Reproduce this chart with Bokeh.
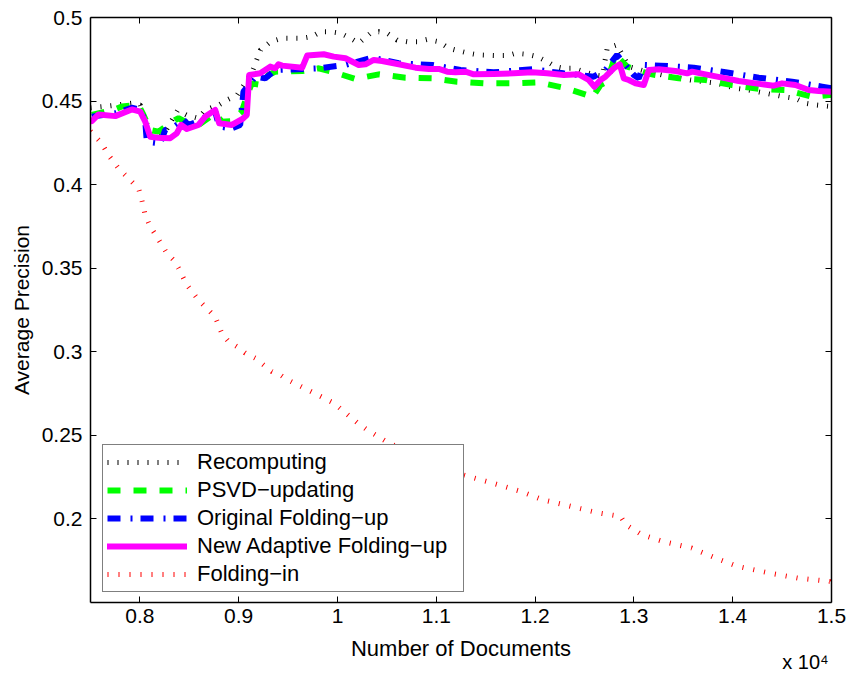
from bokeh.plotting import figure
from bokeh.models import Range1d, FixedTicker, LinearAxis, Legend, LegendItem
from bokeh.embed import file_html
from bokeh.resources import INLINE

# ---------------- data ----------------
x_tick_values = [8000, 9000, 10000, 11000, 12000, 13000, 14000, 15000]
x_tick_labels = ["0.8", "0.9", "1", "1.1", "1.2", "1.3", "1.4", "1.5"]
y_tick_values = [0.2, 0.25, 0.3, 0.35, 0.4, 0.45, 0.5]
y_tick_labels = ["0.2", "0.25", "0.3", "0.35", "0.4", "0.45", "0.5"]
x_exponent_pos = [14737]
x_exponent_label = ["x 10\u2074"]

recomp_x = [7500, 7631, 7918, 8003, 8060, 8110, 8250, 8380, 8470, 8593, 8664, 8799,
            8883, 8985, 9086, 9137, 9221, 9322, 9440, 9643, 9744, 9828, 9929, 10030,
            10131, 10215, 10334, 10418, 10502, 10604, 10705, 10806, 10907, 11025, 11126,
            11228, 11329, 11430, 11616, 11717, 11801, 11920, 12021, 12122, 12206, 12290,
            12391, 12492, 12600, 12680, 12730, 12830, 12948, 13100, 13286, 13573, 13843,
            14028, 14162, 14331, 14517, 14635, 14737, 14838, 15000]
recomp_y = [0.446, 0.4467, 0.4487, 0.4477, 0.438, 0.430, 0.431, 0.4443, 0.4417, 0.4397,
            0.4447, 0.4477, 0.4507, 0.4537, 0.4626, 0.4676, 0.4806, 0.4855, 0.4876, 0.4876,
            0.4886, 0.4915, 0.4915, 0.4906, 0.4876, 0.4846, 0.4906, 0.4915, 0.4906, 0.4865,
            0.4855, 0.4855, 0.4869, 0.4855, 0.4816, 0.48, 0.4786, 0.4776, 0.4772, 0.4772,
            0.4786, 0.478, 0.4766, 0.4736, 0.4706, 0.4696, 0.4696, 0.4676, 0.4656, 0.465,
            0.4816, 0.4836, 0.4706, 0.468, 0.4656, 0.4626, 0.4606, 0.4577, 0.4566, 0.4547,
            0.4526, 0.4516, 0.4487, 0.4477, 0.4467]

psvd_x = [7513, 7733, 7817, 7986, 8036, 8104, 8188, 8357, 8391, 8492, 8593, 8762, 8829,
          8930, 9031, 9099, 9132, 9234, 9301, 9372, 9643, 9810, 9946, 10182, 10418, 10688,
          10958, 11211, 11498, 11768, 12037, 12290, 12527, 12578, 12662, 12730, 12813,
          12932, 13134, 13218, 13454, 13725, 13995, 14281, 14534, 14804, 15000]
psvd_y = [0.4417, 0.4447, 0.4467, 0.4477, 0.4417, 0.4327, 0.4317, 0.4387, 0.4397, 0.4367,
          0.4357, 0.4427, 0.4377, 0.438, 0.4437, 0.4556, 0.4606, 0.4596, 0.4656, 0.4676,
          0.468, 0.4696, 0.4676, 0.4632, 0.466, 0.464, 0.4636, 0.4616, 0.4606, 0.4606,
          0.4612, 0.458, 0.4536, 0.452, 0.4596, 0.4616, 0.4776, 0.4706, 0.4666, 0.4656,
          0.4636, 0.4626, 0.4596, 0.4572, 0.4566, 0.4526, 0.4537]

orig_x = [7513, 7750, 7918, 8003, 8054, 8070, 8205, 8256, 8323, 8441, 8492, 8593, 8762,
          8803, 8930, 9015, 9048, 9167, 9268, 9372, 9810, 10081, 10351, 10618, 10958,
          11245, 11579, 11970, 12287, 12594, 12712, 12830, 12915, 12999, 13049, 13100,
          13269, 13606, 13927, 14264, 14601, 14905, 15000]
orig_y = [0.4407, 0.4427, 0.446, 0.4447, 0.438, 0.4257, 0.4247, 0.4327, 0.4337, 0.4387,
          0.4357, 0.438, 0.4437, 0.4347, 0.4337, 0.4357, 0.4556, 0.4646, 0.4636, 0.4686,
          0.4696, 0.4716, 0.476, 0.4726, 0.4716, 0.4686, 0.4672, 0.469, 0.4666, 0.4646,
          0.4686, 0.4776, 0.4716, 0.4656, 0.4636, 0.4716, 0.4712, 0.47, 0.4672, 0.464,
          0.4616, 0.4586, 0.4576]

adapt_x = [7513, 7581, 7750, 7918, 8003, 8054, 8104, 8188, 8307, 8373, 8418, 8475, 8593,
           8661, 8762, 8803, 8930, 9038, 9082, 9106, 9218, 9319, 9369, 9403, 9440, 9643,
           9693, 9861, 9962, 10081, 10215, 10283, 10367, 10452, 10620, 10789, 10924, 11025,
           11110, 11194, 11295, 11379, 11582, 11784, 11970, 12122, 12290, 12442, 12543,
           12601, 12662, 12712, 12796, 12857, 12898, 12948, 13016, 13100, 13151, 13252,
           13421, 13539, 13590, 13725, 13894, 14061, 14231, 14416, 14500, 14635, 14770,
           14871, 15000]
adapt_y = [0.438, 0.442, 0.441, 0.445, 0.4437, 0.4377, 0.4287, 0.428, 0.4278, 0.4307,
           0.4357, 0.4333, 0.4357, 0.4407, 0.4447, 0.4367, 0.4357, 0.4393, 0.4417, 0.4656,
           0.4666, 0.4706, 0.4696, 0.472, 0.4712, 0.47, 0.4772, 0.478, 0.4766, 0.4756,
           0.4716, 0.472, 0.4746, 0.474, 0.472, 0.47, 0.4692, 0.4692, 0.4676, 0.4672,
           0.4676, 0.466, 0.4662, 0.4666, 0.4672, 0.4666, 0.4656, 0.466, 0.4626, 0.4586,
           0.4626, 0.4646, 0.4696, 0.472, 0.4636, 0.4626, 0.4606, 0.4596, 0.4686, 0.469,
           0.468, 0.4666, 0.4676, 0.466, 0.464, 0.462, 0.4606, 0.4592, 0.4606, 0.4596,
           0.4566, 0.456, 0.4556]

foldin_x = [7500, 7614, 7682, 7783, 7851, 7918, 7986, 8019, 8054, 8104, 8171, 8272, 8340,
            8391, 8475, 8593, 8677, 8762, 8829, 8897, 8981, 9066, 9167, 9251, 9335, 9420,
            9497, 9962, 10207, 10300, 10495, 10850, 11267, 11573, 11859, 12075, 12362,
            12650, 12865, 12919, 13081, 13295, 13583, 13870, 14050, 14373, 14660, 14983,
            15000]
foldin_y = [0.432, 0.4247, 0.4177, 0.4098, 0.4058, 0.4018, 0.3978, 0.3908, 0.3818, 0.3749,
            0.3689, 0.359, 0.355, 0.35, 0.34, 0.331, 0.326, 0.321, 0.3111, 0.3061, 0.3031,
            0.2992, 0.2962, 0.2922, 0.2882, 0.2862, 0.2832, 0.2693, 0.2573, 0.2533, 0.2463,
            0.236, 0.2264, 0.2214, 0.2164, 0.2115, 0.2075, 0.2035, 0.2015, 0.1965, 0.1905,
            0.1865, 0.1826, 0.1756, 0.1716, 0.1676, 0.1646, 0.1626, 0.1615]

series_names = ["Recomputing", "PSVD\u2212updating", "Original Folding\u2212up",
                "New Adaptive Folding\u2212up", "Folding\u2212in"]

# ---------------- figure ----------------
FONT = "Liberation Sans"
p = figure(width=852, height=675, output_backend="svg", toolbar_location=None,
           x_range=Range1d(7500, 15000), y_range=Range1d(0.15, 0.5),
           min_border_left=90, min_border_right=21, min_border_top=17,
           min_border_bottom=73, background_fill_color="white",
           border_fill_color="white", outline_line_color=None)
p.grid.visible = False

xt = FixedTicker(ticks=x_tick_values)
yt = FixedTicker(ticks=y_tick_values)


def style_axis(ax, ticker, labels=None):
    ax.ticker = ticker
    ax.major_tick_in = 6
    ax.major_tick_out = 0
    ax.minor_tick_line_color = None
    ax.axis_line_width = 1.5
    ax.axis_line_color = "black"
    ax.major_tick_line_color = "black"
    ax.major_tick_line_width = 1
    ax.major_label_text_font = FONT
    ax.axis_label_text_font = FONT
    ax.axis_label_text_font_style = "normal"
    ax.axis_label_text_color = "black"
    if labels is not None:
        ax.major_label_overrides = labels
        ax.major_label_text_font_size = "21px"
        ax.major_label_text_color = "black"
    else:
        ax.major_label_overrides = {v: "" for v in ticker.ticks}
        ax.major_label_text_font_size = "6px"
        ax.major_label_text_color = None
        ax.major_label_standoff = 0


xaxis = p.xaxis[0]
yaxis = p.yaxis[0]
style_axis(xaxis, xt, {v: l for v, l in zip(x_tick_values, x_tick_labels)})
style_axis(yaxis, yt, {v: l for v, l in zip(y_tick_values, y_tick_labels)})
xaxis.axis_label = "Number of Documents"
xaxis.axis_label_text_font_size = "22px"
xaxis.major_label_standoff = 6
xaxis.axis_label_standoff = 10
yaxis.axis_label = "Average Precision"
yaxis.axis_label_text_font_size = "21px"
yaxis.major_label_standoff = 8
yaxis.axis_label_standoff = 6

top_axis = LinearAxis()
style_axis(top_axis, xt)
p.add_layout(top_axis, "above")
right_axis = LinearAxis()
style_axis(right_axis, yt)
p.add_layout(right_axis, "right")

# exponent text "x 10^4" below the right end of the x axis
exp_axis = LinearAxis(ticker=FixedTicker(ticks=x_exponent_pos),
                      major_label_overrides={v: l for v, l in zip(x_exponent_pos, x_exponent_label)},
                      axis_line_color=None, major_tick_line_color=None,
                      minor_tick_line_color=None, major_tick_in=0, major_tick_out=0,
                      major_label_standoff=-13, major_label_text_font=FONT,
                      major_label_text_font_size="20px", major_label_text_color="black")
p.add_layout(exp_axis, "below")

r_rec = p.line(recomp_x, recomp_y, line_color="black", line_width=5,
               line_dash="1 9", line_cap="butt")
r_psvd = p.line(psvd_x, psvd_y, line_color="#00ff00", line_width=6,
                line_dash="13 13", line_cap="butt")
r_orig = p.line(orig_x, orig_y, line_color="#0000ff", line_width=6,
                line_dash="13 10 2 8", line_cap="butt")
r_adapt = p.line(adapt_x, adapt_y, line_color="#ff00ff", line_width=6,
                 line_join="round", line_cap="round")
r_fold = p.line(foldin_x, foldin_y, line_color="#ff0000", line_width=5,
                line_dash="1 10", line_cap="butt")

legend = Legend(
    items=[LegendItem(label=n, renderers=[r]) for n, r in
           zip(series_names, [r_rec, r_psvd, r_orig, r_adapt, r_fold])],
    location=(12, 10), orientation="vertical",
    label_text_font=FONT, label_text_font_size="22px", label_text_color="black",
    glyph_width=80, glyph_height=20, label_height=20, label_width=262,
    label_standoff=10, spacing=2, padding=4, margin=0,
    border_line_color="black", border_line_width=1,
    background_fill_color="white", background_fill_alpha=1.0)
p.add_layout(legend, "center")

open("out.html", "w").write(file_html(p, INLINE))
